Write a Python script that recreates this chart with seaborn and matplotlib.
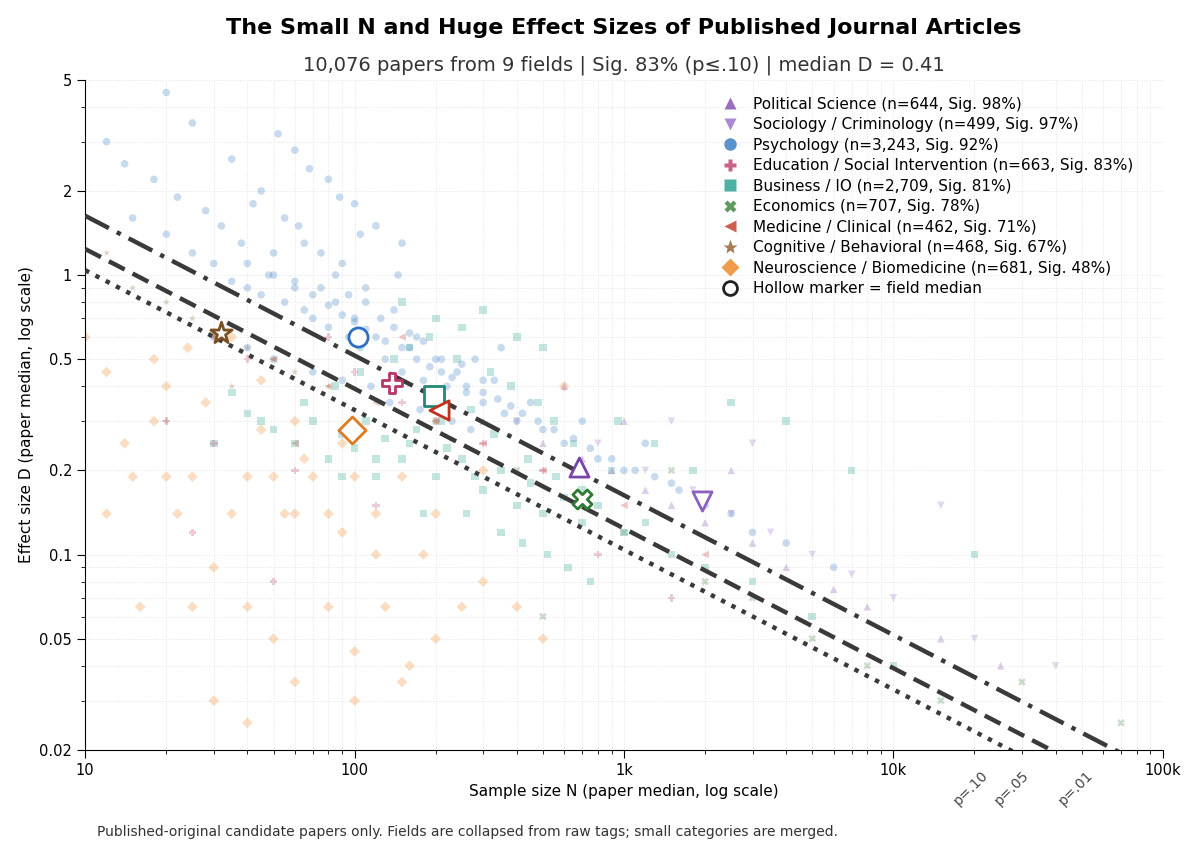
import numpy as np
import pandas as pd
import matplotlib
matplotlib.use("Agg")
import matplotlib.pyplot as plt
import seaborn as sns
from matplotlib.ticker import FixedLocator, NullFormatter

sns.set_style("white")
plt.rcParams['font.family'] = ['DejaVu Sans']
plt.rcParams['text.color'] = 'black'
plt.rcParams['axes.labelcolor'] = 'black'
plt.rcParams['xtick.color'] = 'black'
plt.rcParams['ytick.color'] = 'black'
plt.rcParams['axes.edgecolor'] = 'black'

# ---- field summary (legend + hollow medians) ----
fields = ["Political Science", "Sociology / Criminology", "Psychology",
          "Education / Social Intervention", "Business / IO", "Economics",
          "Medicine / Clinical", "Cognitive / Behavioral", "Neuroscience / Biomedicine"]
field_n = ["644", "499", "3,243", "663", "2,709", "707", "462", "468", "681"]
field_sig = [98, 97, 92, 83, 81, 78, 71, 67, 48]
markers = ["^", "v", "o", "P", "s", "X", "<", "*", "D"]
colors = ["#8e5fb5", "#a07fcf", "#4a86c8", "#c4507c", "#3aa99a", "#4f8f4f",
          "#c84b3a", "#9a6f3f", "#f0913a"]
edge_colors = ["#7a44a8", "#8a60c0", "#2f6fc0", "#b8366a", "#1f8a78", "#2f7a32",
               "#c03020", "#7a5020", "#e07a20"]
median_N = [680, 1950, 103, 138, 197, 700, 205, 32, 98]
median_D = [0.205, 0.155, 0.60, 0.41, 0.37, 0.158, 0.33, 0.62, 0.28]

# ---- background paper points ----
psy_N = [12, 14, 15, 18, 20, 22, 25, 28, 30, 32, 35, 38, 40, 42, 45, 48, 50, 55, 60, 62, 65, 70,
         75, 80, 85, 90, 95, 100, 105, 110, 120, 130, 140, 150, 160, 170, 180, 200, 220, 240,
         260, 280, 300, 330, 360, 400, 450, 500, 600, 700, 800, 1000, 1200, 1500, 2000, 3000,
         45, 55, 65, 75, 85, 95, 110, 125, 140, 160, 180, 210, 250, 300, 350, 60, 80, 100, 120,
         150, 30, 40, 50, 70, 90, 115, 135, 175, 230, 270, 20, 25, 35, 52, 68, 88, 105, 145,
         40, 50, 60, 70, 80, 90, 100, 110, 130, 150, 170, 190, 210, 230, 260, 300, 340, 380,
         420, 480, 550, 650, 750, 900, 1100, 1300, 1600, 2500, 4000, 6000]
psy_D = [3.0, 2.5, 1.6, 2.2, 1.4, 1.9, 1.2, 1.7, 1.1, 1.5, 0.95, 1.3, 0.9, 1.8, 0.85, 1.0, 1.2,
         0.8, 0.95, 1.5, 0.75, 0.7, 0.9, 0.65, 0.8, 1.1, 0.6, 0.7, 0.55, 0.9, 0.6, 0.5, 0.75,
         0.45, 0.55, 0.6, 0.42, 0.5, 0.4, 0.45, 0.38, 0.5, 0.35, 0.42, 0.32, 0.3, 0.35, 0.28,
         0.25, 0.3, 0.22, 0.2, 0.25, 0.18, 0.15, 0.12, 2.0, 1.6, 1.3, 1.2, 1.0, 0.85, 0.8, 0.7,
         0.65, 0.62, 0.58, 0.5, 0.48, 0.42, 0.55, 2.8, 2.2, 1.8, 1.5, 1.3, 0.6, 0.55, 0.5, 0.45,
         0.42, 0.4, 0.35, 0.33, 0.3, 0.28, 4.5, 3.5, 2.6, 3.2, 2.4, 1.9, 1.4, 1.0,
         1.1, 1.0, 0.9, 0.85, 0.78, 0.72, 0.68, 0.64, 0.58, 0.55, 0.5, 0.47, 0.45, 0.43, 0.4,
         0.38, 0.36, 0.34, 0.32, 0.3, 0.28, 0.26, 0.24, 0.22, 0.2, 0.19, 0.17, 0.14, 0.11, 0.09]
bus_N = [50, 60, 70, 80, 90, 100, 110, 120, 130, 150, 170, 200, 220, 250, 280, 300, 350, 400,
         450, 500, 600, 700, 800, 1000, 1200, 1500, 2000, 3000, 5000, 10000, 40, 65, 85, 105,
         140, 160, 190, 240, 320, 380, 480, 550, 650, 900, 150, 200, 250, 300, 400, 500, 180,
         260, 350, 420, 520, 620, 750, 30, 35, 45, 90, 120, 160, 210, 270, 330, 440, 560, 700,
         950, 1300, 1800, 2500, 4000, 7000, 20000]
bus_D = [0.28, 0.25, 0.3, 0.22, 0.27, 0.24, 0.3, 0.19, 0.26, 0.22, 0.28, 0.19, 0.24, 0.22,
         0.19, 0.17, 0.2, 0.15, 0.18, 0.14, 0.16, 0.13, 0.15, 0.12, 0.13, 0.1, 0.09, 0.08,
         0.06, 0.04, 0.32, 0.35, 0.4, 0.45, 0.5, 0.55, 0.6, 0.5, 0.45, 0.4, 0.35, 0.3, 0.25,
         0.2, 0.8, 0.7, 0.65, 0.75, 0.6, 0.55, 0.14, 0.14, 0.12, 0.11, 0.1, 0.09, 0.08, 0.25,
         0.38, 0.3, 0.19, 0.22, 0.25, 0.3, 0.33, 0.27, 0.22, 0.19, 0.17, 0.3, 0.25, 0.2, 0.35,
         0.3, 0.2, 0.1]
neu_N = [10, 12, 15, 18, 20, 22, 25, 28, 30, 35, 40, 45, 50, 55, 60, 70, 80, 90, 100, 120,
         150, 180, 200, 250, 300, 400, 500, 12, 16, 20, 25, 30, 40, 50, 60, 80, 100, 130, 160,
         14, 18, 24, 35, 45, 65, 90, 120, 200, 30, 40, 60, 100, 150, 300, 600]
neu_D = [0.6, 0.45, 0.19, 0.5, 0.19, 0.14, 0.19, 0.35, 0.62, 0.14, 0.19, 0.42, 0.19, 0.14,
         0.3, 0.19, 0.14, 0.25, 0.19, 0.14, 0.19, 0.1, 0.14, 0.065, 0.08, 0.065, 0.05, 0.14,
         0.065, 0.4, 0.065, 0.09, 0.065, 0.05, 0.14, 0.065, 0.045, 0.065, 0.04, 0.25, 0.3,
         0.55, 0.6, 0.28, 0.22, 0.12, 0.1, 0.05, 0.03, 0.025, 0.035, 0.03, 0.035, 0.2, 0.4]
pol_N = [300, 500, 700, 900, 1200, 1500, 2000, 3000, 4000, 6000, 8000, 15000, 25000, 600, 1000, 2500]
pol_D = [0.3, 0.25, 0.22, 0.2, 0.17, 0.15, 0.13, 0.11, 0.09, 0.075, 0.065, 0.05, 0.04, 0.4, 0.3, 0.2]
soc_N = [400, 800, 1200, 1800, 2500, 3500, 5000, 7000, 10000, 20000, 40000, 1500, 3000, 15000]
soc_D = [0.3, 0.25, 0.2, 0.17, 0.14, 0.12, 0.1, 0.085, 0.07, 0.05, 0.04, 0.3, 0.25, 0.15]
edu_N = [20, 30, 40, 60, 80, 100, 150, 200, 300, 500, 800, 1500, 25, 50, 120]
edu_D = [0.3, 0.25, 0.5, 0.2, 0.6, 0.45, 0.35, 0.3, 0.25, 0.2, 0.1, 0.07, 0.12, 0.08, 0.15]
eco_N = [200, 400, 700, 1000, 2000, 3000, 5000, 8000, 15000, 30000, 70000, 1500, 500]
eco_D = [0.3, 0.2, 0.15, 0.12, 0.08, 0.07, 0.05, 0.04, 0.03, 0.035, 0.025, 0.2, 0.06]
med_N = [30, 50, 80, 120, 200, 300, 500, 1000, 2000, 60, 150]
med_D = [0.6, 0.5, 0.4, 0.35, 0.3, 0.25, 0.2, 0.15, 0.1, 0.25, 0.6]
cog_N = [12, 15, 20, 25, 30, 40, 50, 60, 80, 20, 35]
cog_D = [1.2, 0.9, 0.8, 0.7, 0.6, 0.55, 0.5, 0.45, 0.4, 0.3, 0.4]

bg = [(pol_N, pol_D), (soc_N, soc_D), (psy_N, psy_D), (edu_N, edu_D), (bus_N, bus_D),
      (eco_N, eco_D), (med_N, med_D), (cog_N, cog_D), (neu_N, neu_D)]

# significance thresholds
p_labels = ["p=.10", "p=.05", "p=.01"]
z_vals = [1.645, 1.960, 2.576]
line_styles = [(0, (1, 1.6)), (0, (4, 2)), (0, (6, 2, 1, 2))]

fig, ax = plt.subplots(figsize=(12, 8.57), dpi=100)
fig.subplots_adjust(left=0.071, right=0.969, top=0.907, bottom=0.125)

draw_order = [8, 4, 2, 0, 1, 3, 5, 6, 7]
for i in draw_order:
    df = pd.DataFrame({"N": bg[i][0], "D": bg[i][1]})
    sns.scatterplot(data=df, x="N", y="D", marker=markers[i], color=colors[i],
                    alpha=0.3, s=30, edgecolor="none", ax=ax, legend=False)

Ns = np.array([10, 100000])
for z, ls in zip(z_vals, line_styles):
    ax.plot(Ns, 2 * z / np.sqrt(Ns), color="#3a3a3a", lw=3.2, linestyle=ls, zorder=4)

for i in range(len(fields)):
    ax.scatter(median_N[i], median_D[i], marker=markers[i], s=190 if markers[i] != "*" else 260,
               facecolor="white", edgecolor=edge_colors[i], linewidth=2, zorder=6)

ax.set_xscale("log")
ax.set_yscale("log")
ax.set_xlim(10, 100000)
ax.set_ylim(0.02, 5)
ax.set_xticks([10, 100, 1000, 10000, 100000])
ax.set_xticklabels(["10", "100", "1k", "10k", "100k"], fontsize=10.5)
yt = [0.02, 0.05, 0.1, 0.2, 0.5, 1, 2, 5]
ax.yaxis.set_major_locator(FixedLocator(yt))
ax.set_yticklabels(["0.02", "0.05", "0.1", "0.2", "0.5", "1", "2", "5"], fontsize=10.5)
ax.yaxis.set_minor_formatter(NullFormatter())
ax.tick_params(which="both", direction="out", bottom=True, left=True)
ax.tick_params(which="major", length=6)
ax.tick_params(which="minor", length=3)
ax.grid(True, which="both", linestyle=":", color="#e4e4e4", lw=0.7)
sns.despine(ax=ax)
ax.set_xlabel("Sample size N (paper median, log scale)", fontsize=11)
ax.set_ylabel("Effect size D (paper median, log scale)", fontsize=11)

for lab, z in zip(p_labels, z_vals):
    xn = (2 * z / 0.02) ** 2
    ax.text(xn * 0.85, 0.0172, lab, rotation=45, ha="right", va="top",
            fontsize=10, color="#444444")

handles = []
for i in range(len(fields)):
    handles.append(plt.Line2D([], [], marker=markers[i], ls="none", color=colors[i],
                              markersize=9 if markers[i] != "*" else 11, alpha=0.9, markeredgecolor="none",
                              label=f"{fields[i]} (n={field_n[i]}, Sig. {field_sig[i]}%)"))
handles.append(plt.Line2D([], [], marker="o", ls="none", markerfacecolor="white",
                          markeredgecolor="#222222", markeredgewidth=2, markersize=10,
                          label="Hollow marker = field median"))
ax.legend(handles=handles, loc="upper right", bbox_to_anchor=(0.985, 0.995), frameon=False,
          fontsize=11, handletextpad=0.5, labelspacing=0.36)

fig.text(0.52, 0.967, "The Small N and Huge Effect Sizes of Published Journal Articles",
         ha="center", va="center", fontsize=16, fontweight="bold")
fig.text(0.52, 0.924, "10,076 papers from 9 fields | Sig. 83% (p\u2264.10) | median D = 0.41",
         ha="center", va="center", fontsize=14, color="#333333")
fig.text(0.081, 0.029, "Published-original candidate papers only. Fields are collapsed from raw tags; small categories are merged.",
         ha="left", va="center", fontsize=10, color="#333333")

fig.savefig("out.png", dpi=100)
